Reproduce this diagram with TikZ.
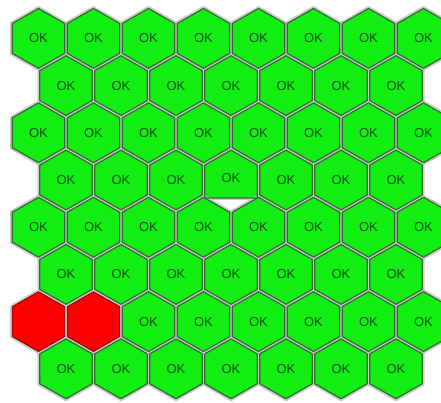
\documentclass[tikz,border=0pt]{standalone}
\usepackage{fontspec}
\setmainfont{Liberation Sans}
\definecolor{hexgreen}{RGB}{18,238,18}
\definecolor{hexline}{RGB}{50,105,50}
\definecolor{hexgap}{RGB}{200,205,200}
\definecolor{oktext}{RGB}{10,80,10}
\definecolor{hexred}{RGB}{250,0,0}
\newcommand\hexshape[4]{(#1,#2-#4) -- (#1+#3,#2-#4/2) -- (#1+#3,#2+#4/2) -- (#1,#2+#4) -- (#1-#3,#2+#4/2) -- (#1-#3,#2-#4/2) -- cycle}
\newcommand\pentshape[4]{(#1,#2-#4) -- (#1+#3,#2-#4/2) -- (#1+#3,#2+#4/2+3) -- (#1-#3,#2+#4/2+3) -- (#1-#3,#2-#4/2) -- cycle}
\newcommand\forhexes[1]{%
  \foreach \r in {0,...,7}{%
    \pgfmathtruncatemacro\odd{mod(\r,2)}%
    \pgfmathtruncatemacro\lastc{7-\odd}%
    \foreach \c in {0,...,\lastc}{%
      \pgfmathsetmacro\cx{38.5+27.5*\odd+55*\c}%
      \pgfmathsetmacro\cy{38.4+47.2*\r}%
      \pgfmathtruncatemacro\isred{(\r==6)&&(\c<2)}%
      \pgfmathtruncatemacro\ispent{(\r==3)&&(\c==3)}%
      #1%
    }%
  }%
}
\tikzset{
  hexfill/.style={fill=hexgreen, draw=hexgap, line width=2.2pt, line join=round},
  redfill/.style={fill=hexred, draw=hexgap, line width=2.2pt, line join=round},
  hexedge/.style={draw=hexline, line width=1.2pt, line join=round},
  rededge/.style={draw=hexred!50!black, line width=0.8pt, line join=round},
  oklabel/.style={text=oktext, font=\fontsize{13}{13}\selectfont, inner sep=0pt}
}
\begin{document}
\begin{tikzpicture}[x=1pt,y=-1pt]
\useasboundingbox (0,0) rectangle (441,402);
\clip (0,0) rectangle (441,402);
\fill[white] (0,0) rectangle (441,402);
% pass 1: fills with gap-coloured outline
\forhexes{%
  \ifnum\isred=1
    \path[redfill] \hexshape{\cx}{\cy}{27.5}{31.4};
  \else\ifnum\ispent=1
    \path[hexfill] \pentshape{\cx}{\cy}{27.5}{31.4};
  \else
    \path[hexfill] \hexshape{\cx}{\cy}{27.5}{31.4};
  \fi\fi
}
% pass 2: inset dark outlines and labels
\forhexes{%
  \ifnum\isred=1
    \path[rededge] \hexshape{\cx}{\cy}{26.2}{29.9};
  \else
    \ifnum\ispent=1
      \path[hexedge] \pentshape{\cx}{\cy}{26.2}{29.9};
      \node[oklabel] (ok-\r-\c) at (\cx,\cy-2) {OK};
    \else
      \path[hexedge] \hexshape{\cx}{\cy}{26.2}{29.9};
      \node[oklabel] (ok-\r-\c) at (\cx,\cy) {OK};
    \fi
  \fi
}
\end{tikzpicture}
\end{document}
